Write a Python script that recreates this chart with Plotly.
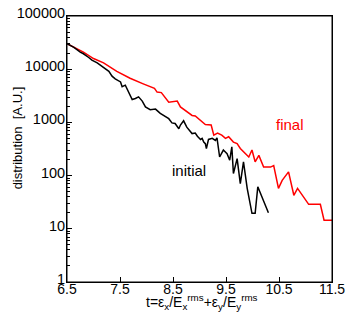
import plotly.graph_objects as go

# initial distribution (black)
t_initial = [6.5, 6.63, 6.75, 6.81, 6.91, 6.97, 7.07, 7.19, 7.29, 7.35, 7.41, 7.51, 7.54, 7.60,
             7.66, 7.73, 7.79, 7.85, 7.92, 7.98, 8.07, 8.17, 8.26, 8.32, 8.42, 8.48, 8.54, 8.61,
             8.64, 8.70, 8.76, 8.86, 8.92, 8.96, 9.02, 9.05, 9.08, 9.11, 9.13, 9.17, 9.24, 9.30,
             9.33, 9.38, 9.45, 9.52, 9.57, 9.61, 9.64, 9.71, 9.77, 9.83, 9.90, 9.99, 10.05, 10.10,
             10.30]
log_initial = [4.48, 4.41, 4.32, 4.29, 4.22, 4.17, 4.12, 4.03, 3.96, 3.87, 3.82, 3.76, 3.67, 3.70,
               3.57, 3.43, 3.45, 3.48, 3.40, 3.29, 3.24, 3.25, 3.17, 3.13, 3.07, 2.99, 2.98, 2.88,
               2.95, 3.03, 2.91, 2.79, 2.80, 2.74, 2.68, 2.70, 2.63, 2.60, 2.51, 2.68, 2.70, 2.66,
               2.71, 2.35, 2.48, 2.41, 2.29, 2.54, 2.04, 2.32, 1.85, 2.26, 1.76, 1.29, 1.29, 1.79,
               1.30]

# final distribution (red)
t_final = [6.5, 6.81, 7.0, 7.19, 7.44, 7.69, 7.95, 8.15, 8.2, 8.28, 8.42, 8.58,
           8.64, 8.73, 8.86, 8.92, 9.02, 9.11, 9.22, 9.27, 9.34, 9.42, 9.49, 9.55, 9.64,
           9.71, 9.77, 9.86, 9.93, 9.99, 10.05, 10.12, 10.21, 10.34, 10.40, 10.49, 10.56,
           10.68, 10.78, 10.85, 11.06, 11.28, 11.35, 11.5]
log_final = [4.48, 4.32, 4.20, 4.12, 3.96, 3.83, 3.72, 3.64, 3.57, 3.56, 3.38, 3.40,
             3.29, 3.23, 3.13, 3.12, 3.04, 2.96, 2.95, 2.76, 2.80, 2.76, 2.70, 2.73, 2.63,
             2.60, 2.51, 2.41, 2.35, 2.48, 2.26, 2.38, 2.16, 2.16, 2.19, 1.76, 1.91,
             2.07, 1.63, 1.76, 1.46, 1.46, 1.16, 1.16]

y_initial = [10 ** v for v in log_initial]
y_final = [10 ** v for v in log_final]

x_ticks = [6.5, 7.5, 8.5, 9.5, 10.5, 11.5]
y_ticks = [1, 10, 100, 1000, 10000, 100000]
y_ticktext = ["1", "10", "100", "1000", "10000", "100000"]
y_minor = [m * 10 ** d for d in range(0, 5) for m in range(2, 10)]

x_title = "t=ε<sub>x</sub>/E<sub>x</sub><sup>rms</sup>+ε<sub>y</sub>/E<sub>y</sub><sup>rms</sup>"
y_title = "distribution  [A.U.]"

font = "Liberation Sans, Arial, sans-serif"

fig = go.Figure()
fig.add_trace(go.Scatter(x=t_final, y=y_final, mode="lines",
                         line=dict(color="#ff0000", width=1.5), showlegend=False))
fig.add_trace(go.Scatter(x=t_initial, y=y_initial, mode="lines",
                         line=dict(color="#000000", width=1.5), showlegend=False))

fig.add_annotation(x=10.71, y=2.96, text="final", showarrow=False,
                   font=dict(family=font, size=15, color="#ff0000"))
fig.add_annotation(x=8.81, y=2.10, text="initial", showarrow=False,
                   font=dict(family=font, size=15, color="#000000"))

# axis titles
fig.add_annotation(x=0.51, y=0, xref="paper", yref="paper", xanchor="center", yanchor="top",
                   yshift=-8, text=x_title, showarrow=False,
                   font=dict(family=font, size=14, color="black"))
fig.add_annotation(x=0, y=0.54, xref="paper", yref="paper", xanchor="center", yanchor="middle",
                   xshift=-50, textangle=-90, text=y_title, showarrow=False,
                   font=dict(family=font, size=13, color="black"))

# plot frame
fig.add_shape(type="rect", xref="paper", yref="paper", x0=0, x1=1, y0=0, y1=1,
              line=dict(color="black", width=1), fillcolor="rgba(0,0,0,0)", layer="above")

fig.update_layout(
    width=346, height=323,
    margin=dict(l=67, r=14, t=16, b=41, autoexpand=False),
    paper_bgcolor="white", plot_bgcolor="white",
    font=dict(family=font, size=14, color="black"),
    showlegend=False,
    xaxis=dict(range=[6.5, 11.5], tickvals=x_ticks, ticktext=[str(v) for v in x_ticks],
               ticks="inside", ticklen=5, tickwidth=1, tickcolor="black",
               showline=True, linecolor="black", linewidth=1, mirror=True,
               showgrid=False, zeroline=False, automargin=False,
               tickfont=dict(size=14), ticklabelstandoff=-6),
    yaxis=dict(type="log", range=[0, 5], tickvals=y_ticks, ticktext=y_ticktext,
               ticks="inside", ticklen=5, tickwidth=1, tickcolor="black",
               minor=dict(tickvals=y_minor, ticks="inside", ticklen=3, tickwidth=1,
                          tickcolor="black", showgrid=False),
               showline=True, linecolor="black", linewidth=1, mirror=True,
               showgrid=False, zeroline=False, automargin=False,
               tickfont=dict(size=14.5), ticklabelshift=-3, ticklabelstandoff=-2),
)

fig.write_html("out.html", post_script="document.body.style.margin='0';",
               config={"displayModeBar": False})
